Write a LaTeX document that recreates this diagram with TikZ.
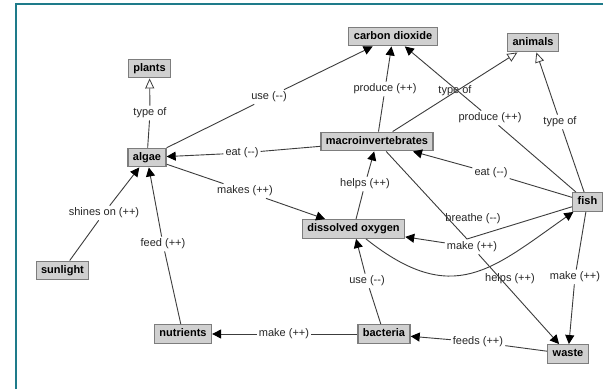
\documentclass[tikz,border=0pt]{standalone}
\usepackage{fontspec}
\setmainfont{Liberation Sans}
\usetikzlibrary{arrows.meta}

\definecolor{framecol}{RGB}{30,123,138}
\definecolor{boxfill}{RGB}{208,208,208}
\definecolor{boxline}{RGB}{125,125,125}
\definecolor{linkcol}{RGB}{60,60,60}

\tikzset{
  concept/.style={draw=boxline, line width=1.2pt, fill=boxfill,
    font=\fontsize{11}{13}\selectfont\bfseries,
    text height=8pt, text depth=2.3pt, inner xsep=5pt, inner ysep=4.2pt},
  lbl/.style={font=\fontsize{11}{13}\selectfont, text=black!85,
    text height=8pt, text depth=2.3pt, inner xsep=2pt, inner ysep=2pt},
  link/.style={draw=linkcol, line width=0.9pt},
  arr/.style={link, -{Triangle[length=9pt,width=9pt,color=black]}},
  isa/.style={link, -{Triangle[length=10pt,width=9pt,fill=white,color=linkcol,line width=0.8pt]}}
}

\begin{document}
\begin{tikzpicture}[x=1pt,y=-1pt]
\useasboundingbox (0,0) rectangle (603,389);
\fill[white] (0,0) rectangle (603,389);

% frame
\draw[framecol, line width=2pt] (16,389) -- (16,4) -- (603,4);

% concepts
\node[concept] (co2)       at (393,36.5)  {carbon dioxide};
\node[concept] (animals)   at (533,42.5)  {animals};
\node[concept] (plants)    at (149.5,68.5){plants};
\node[concept] (algae)     at (147,157.5) {algae};
\node[concept] (macro)     at (377,141.5) {macroinvertebrates};
\node[concept] (fish)      at (587.5,202) {fish};
\node[concept] (do)        at (353.5,229) {dissolved oxygen};
\node[concept] (sunlight)  at (62.5,270.5){sunlight};
\node[concept] (nutrients) at (183,334)   {nutrients};
\node[concept] (bacteria)  at (384,334)   {bacteria};
\node[concept] (waste)     at (568,354)   {waste};

% link labels
\node[lbl] (lt1)      at (150,113) {type of};
\node[lbl] (luse1)    at (269,97)  {use (-{}-)};
\node[lbl] (leat1)    at (242,153) {eat (-{}-)};
\node[lbl] (lmakes)   at (245,191) {makes (++)};
\node[lbl] (lshine)   at (104,213) {shines on (++)};
\node[lbl] (lfeed)    at (163,244) {feed (++)};
\node[lbl] (lmake1)   at (284,334) {make (++)};
\node[lbl] (luse2)    at (367,281) {use (-{}-)};
\node[lbl] (lhelps1)  at (365,184) {helps (++)};
\node[lbl] (lprod1)   at (385,89)  {produce (++)};
\node[lbl] (lt2)      at (455,91)  {type of};
\node[lbl] (lprod2)   at (490,118) {produce (++)};
\node[lbl] (lt3)      at (560,122) {type of};
\node[lbl] (leat2)    at (491,173) {eat (-{}-)};
\node[lbl] (lbreathe) at (473,219) {breathe (-{}-)};
\node[lbl] (lmake2)   at (472,247) {make (++)};
\node[lbl] (lhelps2)  at (510,279) {helps (++)};
\node[lbl] (lmake3)   at (575,277) {make (++)};
\node[lbl] (lfeeds)   at (478,342) {feeds (++)};

\coordinate (bend) at (467,239);

% links
\draw[link] (algae) -- (lt1);      \draw[isa] (lt1) -- (plants);
\draw[link] (algae) -- (luse1);    \draw[arr] (luse1) -- (co2);
\draw[link] (macro) -- (leat1);    \draw[arr] (leat1) -- (algae);
\draw[link] (algae) -- (lmakes);   \draw[arr] (lmakes) -- (do);
\draw[link] (sunlight) -- (lshine);\draw[arr] (lshine) -- (algae);
\draw[link] (nutrients) -- (lfeed);\draw[arr] (lfeed) -- (algae);
\draw[link] (bacteria) -- (lmake1);\draw[arr] (lmake1) -- (nutrients);
\draw[link] (bacteria) -- (luse2); \draw[arr] (luse2) -- (do);
\draw[link] (do) -- (lhelps1);     \draw[arr] (lhelps1) -- (macro);
\draw[link] (macro) -- (lprod1);   \draw[arr] (lprod1) -- (co2);
\draw[isa] (macro) -- (animals);
\draw[link] (fish) -- (lprod2);    \draw[arr] (lprod2) -- (co2);
\draw[link] (fish) -- (lt3);       \draw[isa] (lt3) -- (animals);
\draw[link] (fish) -- (leat2);     \draw[arr] (leat2) -- (macro);
\draw[link] (fish) -- (lmake3);    \draw[arr] (lmake3) -- (waste);
\draw[link] (waste) -- (lfeeds);   \draw[arr] (lfeeds) -- (bacteria);
\draw[link] (macro) -- (bend) -- (fish);
\draw[arr] (lmake2) -- (do);
\draw[arr] (lmake2) -- (waste);
\draw[arr] (do) .. controls (453,308) and (492,269) .. (fish);
\end{tikzpicture}
\end{document}
